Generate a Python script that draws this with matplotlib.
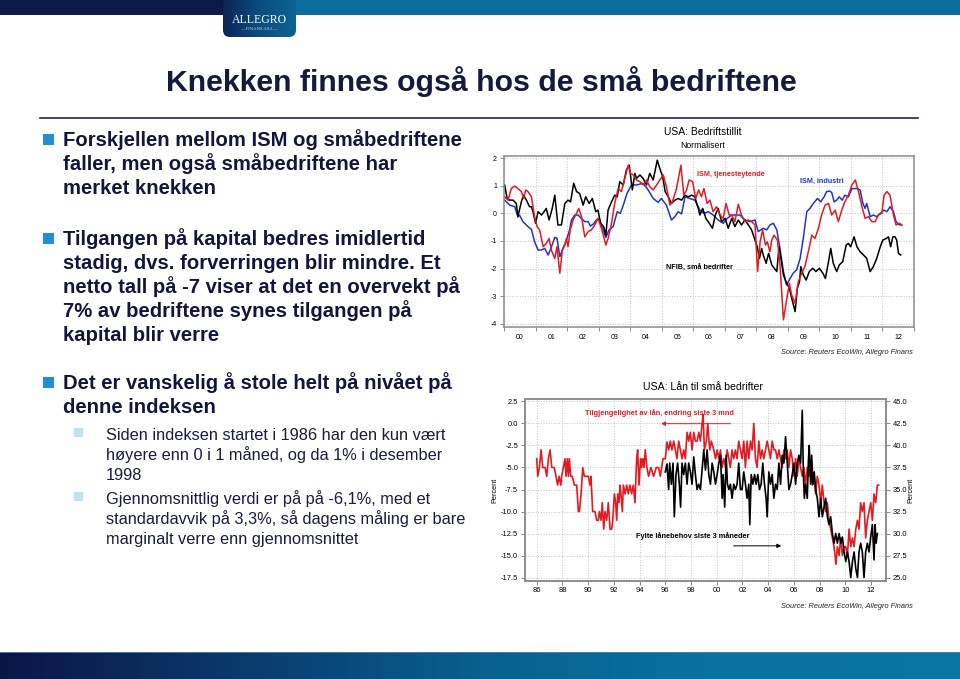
import matplotlib
matplotlib.use("Agg")
import matplotlib.pyplot as plt
import numpy as np
from matplotlib.patches import Rectangle, FancyBboxPatch
from matplotlib.colors import LinearSegmentedColormap

plt.rcParams['font.family'] = ['Liberation Sans', 'DejaVu Sans']
plt.rcParams['axes.unicode_minus'] = False

# ---------------- data: top chart (normalised confidence) ----------------
ism_ind_t = [2000.02, 2000.18, 2000.34, 2000.44, 2000.49, 2000.60, 2000.76, 2000.87, 2000.97, 2001.08,
             2001.18, 2001.29, 2001.40, 2001.50, 2001.61, 2001.68, 2001.77, 2001.87, 2001.98, 2002.08,
             2002.14, 2002.24, 2002.35, 2002.45, 2002.56, 2002.67, 2002.74, 2002.83, 2002.93, 2003.02,
             2003.14, 2003.23, 2003.33, 2003.46, 2003.59, 2003.69, 2003.80, 2003.90, 2004.04, 2004.20,
             2004.41, 2004.57, 2004.73, 2004.89, 2004.99, 2005.15, 2005.31, 2005.42, 2005.52, 2005.63,
             2005.74, 2005.89, 2006.05, 2006.21, 2006.34, 2006.48, 2006.63, 2006.79, 2006.95, 2007.08,
             2007.22, 2007.32, 2007.48, 2007.64, 2007.80, 2007.96, 2008.06, 2008.22, 2008.33, 2008.43,
             2008.54, 2008.65, 2008.75, 2008.86, 2008.96, 2009.07, 2009.17, 2009.28, 2009.39, 2009.49,
             2009.60, 2009.70, 2009.81, 2009.94, 2010.04, 2010.15, 2010.23, 2010.32, 2010.39, 2010.47,
             2010.55, 2010.63, 2010.72, 2010.81, 2010.92, 2011.03, 2011.19, 2011.29, 2011.38, 2011.45,
             2011.50, 2011.61, 2011.71, 2011.82, 2011.93, 2012.05, 2012.14, 2012.24, 2012.35, 2012.43,
             2012.54, 2012.61]
ism_ind_v = [0.48, 0.30, 0.24, -0.12, -0.06, -0.30, -0.48, -0.58, -1.03, -1.33,
             -1.33, -1.27, -1.51, -1.23, -0.87, -0.90, -1.57, -1.27, -0.97, -0.60,
             -0.24, -0.06, -0.06, -0.18, -0.30, -0.30, -0.46, -0.39, -0.24, -0.18,
             -0.60, -0.87, -0.60, -0.48, 0.06, 0.00, 0.36, 0.72, 1.03, 1.03,
             1.09, 0.85, 0.54, 0.40, 0.54, 0.30, -0.24, -0.12, 0.06, -0.02,
             0.60, 0.54, 0.48, 0.12, 0.00, 0.06, -0.06, -0.24, -0.36, -0.18,
             -0.06, -0.06, -0.06, -0.24, -0.30, -0.24, -0.66, -0.54, -0.60, -0.42,
             -0.36, -0.60, -1.27, -2.11, -2.60, -2.36, -2.17, -2.05, -1.63, -0.90,
             0.06, 0.18, 0.36, 0.54, 0.42, 0.60, 0.79, 0.81, 0.76, 0.42,
             0.48, 0.60, 0.48, 0.66, 0.60, 0.90, 0.90, 0.85, 0.36, 0.18,
             0.36, -0.12, -0.06, -0.12, 0.00, 0.12, 0.06, 0.24, 0.06, -0.30,
             -0.42, -0.42]

ism_srv_t = [2000.02, 2000.13, 2000.23, 2000.34, 2000.44, 2000.55, 2000.62, 2000.69, 2000.76, 2000.87,
             2000.97, 2001.05, 2001.13, 2001.24, 2001.34, 2001.43, 2001.50, 2001.61, 2001.68, 2001.77,
             2001.85, 2001.93, 2001.98, 2002.03, 2002.10, 2002.19, 2002.30, 2002.37, 2002.46, 2002.56,
             2002.67, 2002.77, 2002.88, 2002.98, 2003.09, 2003.23, 2003.30, 2003.41, 2003.51, 2003.62,
             2003.72, 2003.83, 2003.94, 2004.01, 2004.10, 2004.20, 2004.31, 2004.41, 2004.52, 2004.62,
             2004.73, 2004.84, 2004.94, 2005.05, 2005.15, 2005.26, 2005.34, 2005.47, 2005.61, 2005.70,
             2005.79, 2005.87, 2005.98, 2006.08, 2006.17, 2006.26, 2006.34, 2006.44, 2006.53, 2006.63,
             2006.74, 2006.85, 2006.95, 2007.04, 2007.14, 2007.22, 2007.32, 2007.43, 2007.53, 2007.64,
             2007.75, 2007.85, 2007.96, 2008.04, 2008.12, 2008.20, 2008.29, 2008.35, 2008.43, 2008.49,
             2008.56, 2008.67, 2008.75, 2008.86, 2008.96, 2009.05, 2009.12, 2009.23, 2009.33, 2009.44,
             2009.54, 2009.65, 2009.76, 2009.86, 2009.97, 2010.07, 2010.18, 2010.29, 2010.39, 2010.50,
             2010.60, 2010.71, 2010.81, 2010.92, 2011.03, 2011.14, 2011.24, 2011.35, 2011.45, 2011.56,
             2011.66, 2011.77, 2011.87, 2011.98, 2012.05, 2012.14, 2012.24, 2012.35, 2012.43, 2012.54,
             2012.61]
ism_srv_v = [0.60, 0.48, 0.90, 0.99, 0.90, 0.79, 0.54, 0.85, 0.79, 0.60,
             -0.12, -0.48, -0.60, -1.21, -1.09, -0.91, -1.33, -1.63, -1.21, -2.17,
             -1.33, -1.15, -0.91, -1.21, -0.60, -0.24, 0.00, 0.18, -0.12, -0.85,
             -0.66, -0.60, -0.42, -0.18, -0.54, -1.15, -0.91, -0.36, 0.36, 0.90,
             0.79, 1.27, 1.75, 1.45, 1.39, 1.21, 1.15, 1.03, 1.21, 0.97,
             0.85, 1.03, 1.21, 1.39, 0.97, 0.30, 0.42, 0.90, 1.75, 0.66,
             0.85, 1.21, 1.15, 0.54, 0.85, 0.60, 0.90, 0.36, 0.48, 0.06,
             0.24, -0.06, -0.18, 0.36, -0.06, -0.06, -0.30, 0.33, -0.06, -0.30,
             -0.24, -0.30, -0.42, -2.11, -1.03, -0.60, -1.15, -1.03, -1.39, -0.97,
             -0.79, -0.97, -1.87, -3.86, -3.14, -2.54, -2.96, -3.26, -2.48, -2.17,
             -1.93, -1.39, -0.79, -0.91, -0.54, -0.06, 0.30, 0.36, -0.06, 0.12,
             -0.30, 0.12, 0.42, 0.66, 1.03, 1.21, 0.79, 0.24, -0.18, -0.12,
             -0.30, -0.30, -0.06, 0.00, 0.66, 0.79, 0.66, -0.06, -0.42, -0.36,
             -0.42]

nfib_t = [2000.02, 2000.10, 2000.18, 2000.29, 2000.39, 2000.44, 2000.55, 2000.62, 2000.71, 2000.81,
          2000.87, 2000.92, 2001.00, 2001.08, 2001.19, 2001.27, 2001.34, 2001.43, 2001.53, 2001.61,
          2001.71, 2001.82, 2001.93, 2002.03, 2002.11, 2002.21, 2002.30, 2002.40, 2002.51, 2002.59,
          2002.70, 2002.80, 2002.91, 2002.98, 2003.06, 2003.16, 2003.23, 2003.30, 2003.41, 2003.51,
          2003.59, 2003.67, 2003.78, 2003.88, 2003.97, 2004.07, 2004.15, 2004.20, 2004.31, 2004.41,
          2004.52, 2004.62, 2004.73, 2004.86, 2004.94, 2005.03, 2005.11, 2005.21, 2005.31, 2005.42,
          2005.52, 2005.63, 2005.74, 2005.84, 2005.95, 2006.05, 2006.16, 2006.21, 2006.30, 2006.40,
          2006.51, 2006.61, 2006.70, 2006.79, 2006.90, 2007.01, 2007.11, 2007.22, 2007.32, 2007.43,
          2007.53, 2007.64, 2007.75, 2007.85, 2007.96, 2008.03, 2008.10, 2008.17, 2008.22, 2008.31,
          2008.39, 2008.49, 2008.57, 2008.65, 2008.72, 2008.78, 2008.86, 2008.94, 2009.05, 2009.15,
          2009.23, 2009.30, 2009.37, 2009.41, 2009.49, 2009.58, 2009.68, 2009.79, 2009.89, 2010.00,
          2010.11, 2010.19, 2010.29, 2010.36, 2010.44, 2010.55, 2010.63, 2010.74, 2010.85, 2010.92,
          2010.99, 2011.10, 2011.19, 2011.29, 2011.40, 2011.50, 2011.61, 2011.71, 2011.82, 2011.93,
          2012.01, 2012.12, 2012.19, 2012.26, 2012.33, 2012.40, 2012.45, 2012.51, 2012.58]
nfib_v = [1.03, 0.54, 0.48, 0.48, 0.36, -0.12, 0.42, 0.66, 0.48, 0.24,
          0.24, 0.06, -0.36, 0.06, -0.06, 0.06, 0.18, -0.24, 0.18, 0.66,
          -0.42, -0.42, 0.36, 0.48, 0.42, 1.09, 0.79, 0.72, 0.30, 0.60,
          0.36, 0.54, 0.06, 0.12, -0.36, -0.48, -0.79, 0.12, 0.42, 0.66,
          0.60, 1.15, 1.03, 1.57, 1.75, 0.85, 1.45, 1.27, 1.39, 1.27,
          1.03, 1.45, 1.21, 1.93, 1.63, 1.33, 0.79, 0.60, 0.36, 0.48,
          0.54, 0.48, 0.66, 0.60, 0.66, 0.60, 0.18, -0.06, 0.18, -0.18,
          -0.36, -0.54, -0.06, 0.18, -0.30, -0.18, -0.54, -0.18, -0.48, -0.24,
          -0.42, -0.24, -0.42, -0.60, -0.97, -1.21, -1.63, -1.27, -1.51, -1.81,
          -1.45, -1.87, -1.99, -2.11, -1.21, -1.63, -2.23, -2.48, -2.72, -3.20,
          -3.56, -2.72, -2.48, -1.93, -2.23, -2.42, -2.11, -1.99, -2.11, -1.99,
          -2.17, -2.36, -1.75, -1.27, -1.81, -2.11, -1.87, -1.75, -1.15, -1.09,
          -1.21, -0.85, -1.21, -1.39, -1.51, -1.63, -2.11, -1.93, -1.63, -1.21,
          -0.97, -0.91, -0.85, -1.21, -0.85, -0.85, -0.97, -1.45, -1.51]

top_years = ['00', '01', '02', '03', '04', '05', '06', '07', '08', '09', '10', '11', '12']

# ---------------- data: bottom chart (loans to small firms) ----------------
loan_t = [1986.00, 1986.08, 1986.21, 1986.34, 1986.47, 1986.65, 1986.78, 1986.91, 1987.04, 1987.17,
          1987.37, 1987.50, 1987.63, 1987.74, 1987.87, 1987.94, 1988.07, 1988.20, 1988.28, 1988.38,
          1988.46, 1988.54, 1988.64, 1988.77, 1988.93, 1989.11, 1989.24, 1989.32, 1989.45, 1989.58,
          1989.70, 1989.89, 1990.02, 1990.15, 1990.22, 1990.35, 1990.53, 1990.66, 1990.79, 1990.87,
          1991.00, 1991.10, 1991.21, 1991.31, 1991.44, 1991.57, 1991.70, 1991.83, 1991.91, 1992.04,
          1992.14, 1992.22, 1992.30, 1992.40, 1992.48, 1992.55, 1992.66, 1992.74, 1992.87, 1993.00,
          1993.12, 1993.25, 1993.38, 1993.51, 1993.64, 1993.77, 1993.85, 1993.95, 1994.08, 1994.16,
          1994.26, 1994.34, 1994.44, 1994.57, 1994.70, 1994.88, 1995.09, 1995.30, 1995.48, 1995.61,
          1995.82, 1996.00, 1996.13, 1996.26, 1996.39, 1996.52, 1996.65, 1996.78, 1996.91, 1997.04,
          1997.17, 1997.30, 1997.43, 1997.56, 1997.69, 1997.82, 1997.95, 1998.08, 1998.21, 1998.34,
          1998.47, 1998.60, 1998.73, 1998.86, 1998.94, 1999.04, 1999.19, 1999.30, 1999.45, 1999.58,
          1999.77, 1999.90, 2000.03, 2000.16, 2000.29, 2000.42, 2000.55, 2000.68, 2000.81, 2000.94,
          2001.06, 2001.19, 2001.32, 2001.45, 2001.58, 2001.71, 2001.84, 2001.97, 2002.10, 2002.23,
          2002.36, 2002.49, 2002.62, 2002.75, 2002.88, 2003.01, 2003.14, 2003.27, 2003.40, 2003.53,
          2003.66, 2003.79, 2003.92, 2004.05, 2004.18, 2004.31, 2004.44, 2004.57, 2004.70, 2004.83,
          2004.96, 2005.09, 2005.22, 2005.35, 2005.48, 2005.61, 2005.74, 2005.87, 2006.00, 2006.13,
          2006.26, 2006.39, 2006.52, 2006.65, 2006.78, 2006.91, 2007.04, 2007.17, 2007.30, 2007.43,
          2007.56, 2007.69, 2007.82, 2007.95, 2008.08, 2008.21, 2008.34, 2008.47, 2008.60, 2008.73,
          2008.86, 2008.99, 2009.12, 2009.27, 2009.38, 2009.51, 2009.64, 2009.77, 2009.90, 2010.03,
          2010.16, 2010.29, 2010.42, 2010.55, 2010.68, 2010.81, 2010.94, 2011.06, 2011.19, 2011.32,
          2011.45, 2011.58, 2011.71, 2011.84, 2011.97, 2012.10, 2012.23, 2012.36, 2012.49, 2012.58]
loan_v = [-4, -6, -5, -3, -5, -5, -6, -4, -3, -5,
          -5, -6, -7, -6, -7, -6, -5, -4, -6, -4,
          -6, -4, -6, -6, -7, -7, -10, -10, -8, -5,
          -6, -6, -6, -7, -6, -10, -10, -11, -11, -10,
          -11, -9, -12, -10, -11, -9, -12, -12, -11, -8,
          -9, -11, -8, -9, -7, -8, -10, -7, -8, -7,
          -8, -7, -8, -7, -9, -4, -3, -7, -4, -5,
          -4, -5, -3, -5, -6, -5, -6, -5, -5, -6,
          -4, -4, -2.1, -3, -2, -3, -2, -3, -4, -2,
          -3, -4, -3, -4, -1, -2, -1, -3, -1, -2,
          -2, -1, -2, 0, 1, -3, -2, 0, -3, -2,
          -3, -4, -3, -4, -3, -5, -4, -5, -3, -4,
          -5, -3, -4, -3, -4, -2, -3, -4, -2, -5,
          -2, -4, -2, -3, 0, -4, -5, -2, -4, -3,
          -4, -3, -2, -3, -4, -2, -3, -3, -4, -3,
          -4, -5, -3, -4, -3, -5, -3, -4, -6, -4,
          -6, -4, -5, -6, -5, -7, -5, -6, -5, -7,
          -6, -8, -6, -7, -9, -7, -9, -10, -9, -11,
          -12, -13, -14, -16, -14, -15, -13, -15, -14, -14,
          -15, -12, -14, -13, -14, -12, -11, -12, -9, -10,
          -9, -13, -11, -10, -9, -11, -8, -9, -7, -7]

need_t = [1996.00, 1996.13, 1996.26, 1996.34, 1996.47, 1996.60, 1996.70, 1996.83, 1996.96, 1997.09,
          1997.19, 1997.30, 1997.43, 1997.56, 1997.69, 1997.82, 1997.95, 1998.08, 1998.21, 1998.34,
          1998.47, 1998.60, 1998.73, 1998.86, 1998.99, 1999.12, 1999.25, 1999.38, 1999.51, 1999.64,
          1999.77, 1999.90, 2000.03, 2000.16, 2000.29, 2000.42, 2000.49, 2000.62, 2000.73, 2000.83,
          2000.94, 2001.06, 2001.19, 2001.32, 2001.45, 2001.58, 2001.71, 2001.84, 2001.97, 2002.10,
          2002.23, 2002.36, 2002.49, 2002.57, 2002.68, 2002.81, 2002.94, 2003.06, 2003.19, 2003.32,
          2003.45, 2003.58, 2003.71, 2003.84, 2003.92, 2004.05, 2004.18, 2004.31, 2004.44, 2004.57,
          2004.70, 2004.83, 2004.96, 2005.09, 2005.22, 2005.35, 2005.48, 2005.61, 2005.74, 2005.87,
          2006.00, 2006.13, 2006.26, 2006.39, 2006.52, 2006.65, 2006.73, 2006.81, 2006.91, 2007.04,
          2007.12, 2007.19, 2007.30, 2007.38, 2007.48, 2007.58, 2007.69, 2007.82, 2007.95, 2008.08,
          2008.21, 2008.34, 2008.47, 2008.60, 2008.73, 2008.86, 2008.99, 2009.12, 2009.25, 2009.38,
          2009.51, 2009.64, 2009.77, 2009.90, 2010.03, 2010.16, 2010.29, 2010.42, 2010.55, 2010.68,
          2010.81, 2010.94, 2011.06, 2011.19, 2011.32, 2011.45, 2011.58, 2011.71, 2011.84, 2011.97,
          2012.10, 2012.23, 2012.31, 2012.39, 2012.49]
need_v = [37.0, 37.9, 35.0, 38.0, 35.6, 38.0, 31.9, 36.7, 38.0, 35.6,
          33.0, 38.0, 36.7, 38.0, 35.6, 38.0, 37.0, 35.6, 38.7, 36.7,
          35.0, 35.6, 35.0, 37.2, 39.5, 37.2, 39.5, 36.7, 35.6, 38.0,
          37.0, 35.6, 36.7, 38.0, 38.9, 34.0, 36.7, 33.0, 38.9, 35.6,
          35.0, 35.6, 34.0, 35.6, 35.0, 35.6, 38.0, 35.0, 35.0, 37.0,
          35.6, 34.0, 35.6, 31.0, 36.7, 35.6, 36.7, 35.6, 36.7, 35.0,
          35.6, 38.0, 35.6, 34.0, 31.9, 37.0, 35.6, 36.7, 34.0, 35.6,
          35.0, 38.0, 35.6, 38.9, 38.0, 41.0, 38.0, 35.0, 35.6, 36.7,
          38.0, 35.6, 38.0, 38.9, 38.0, 44.0, 37.0, 34.0, 35.6, 34.0,
          38.0, 40.0, 35.6, 38.9, 35.6, 37.0, 35.0, 34.0, 31.9, 34.0,
          31.9, 33.0, 34.0, 31.9, 31.0, 31.9, 30.0, 28.9, 30.0, 28.9,
          30.0, 28.9, 29.6, 27.9, 26.8, 27.9, 26.8, 25.0, 26.8, 27.9,
          26.0, 25.0, 27.9, 28.9, 27.9, 25.0, 27.9, 28.9, 27.9, 29.6,
          31.0, 27.0, 31.0, 28.9, 30.0]

bottom_years = ['86', '88', '90', '92', '94', '96', '98', '00', '02', '04', '06', '08', '10', '12']

# ---------------- slide text ----------------
title = 'Knekken finnes også hos de små bedriftene'
main_bullets = [
    ['Forskjellen mellom ISM og småbedriftene', 'faller, men også småbedriftene har', 'merket knekken'],
    ['Tilgangen på kapital bedres imidlertid', 'stadig, dvs. forverringen blir mindre. Et',
     'netto tall på -7 viser at det en overvekt på', '7% av bedriftene synes tilgangen på',
     'kapital blir verre'],
    ['Det er vanskelig å stole helt på nivået på', 'denne indeksen'],
]
sub_bullets = [
    ['Siden indeksen startet i 1986 har den kun vært', 'høyere enn 0 i 1 måned, og da 1% i desember', '1998'],
    ['Gjennomsnittlig verdi er på på -6,1%, med et', 'standardavvik på 3,3%, så dagens måling er bare',
     'marginalt verre enn gjennomsnittet'],
]
source = 'Source: Reuters EcoWin, Allegro Finans'

RED = '#e01b22'
BLUE = '#2232d2'
NAVY = '#13163c'
GRID = '#c4c4c4'
SPINE = '#8a8a8a'

W, H = 960, 679
fig = plt.figure(figsize=(W / 100, H / 100), dpi=100)
fig.patch.set_facecolor('white')

# background layer in pixel coordinates
bg = fig.add_axes([0, 0, 1, 1])
bg.axis('off')

band_cm = LinearSegmentedColormap.from_list('band', ['#0b1545', '#0a3a6c', '#07608f', '#0872a0', '#0876a3'])
grad = np.linspace(0, 1, 256)[None, :]

# header
bg.add_patch(Rectangle((0, 0), 223, 15, color='#0c1949', lw=0))
bg.add_patch(Rectangle((296, 0), W - 296, 15, color='#0a6d9c', lw=0))
tab = FancyBboxPatch((223, -12), 73, 49, boxstyle='round,pad=0,rounding_size=7', fc='none', ec='none')
bg.add_patch(tab)
im = bg.imshow(grad, cmap=LinearSegmentedColormap.from_list('tab', ['#0c2456', '#0a4d80', '#0a6494']),
               extent=(223, 296, 37, -12), aspect='auto')
im.set_clip_path(tab)
bg.text(259.5, 23, 'ALLEGRO', color='white', family='Liberation Serif', fontsize=8.5,
        ha='center', va='baseline')
bg.text(259.5, 30.5, '— FINANS ASA —', color='#c8d6ea', family='Liberation Serif', fontsize=3.3,
        ha='center', va='baseline')

# footer
bg.imshow(grad, cmap=band_cm, extent=(0, W, H, 652), aspect='auto')
bg.plot([0, W], [652, 652], color='#4a8db0', lw=0.6)

# title + rule
bg.text(481, 91, title, fontsize=21.8, fontweight='bold', color='#141a3d', ha='center', va='baseline')
bg.plot([40, 918], [118, 118], color='#1d2452', lw=1.2)

# bullets
for group, y0 in zip(main_bullets, [146, 245, 389]):
    bg.add_patch(Rectangle((43, y0 - 12), 11, 11, color='#1f8fd8', lw=0))
    for i, line in enumerate(group):
        bg.text(63, y0 + 24 * i, line, fontsize=14.6, fontweight='bold', color=NAVY, va='baseline')
for group, y0 in zip(sub_bullets, [440, 504]):
    bg.add_patch(Rectangle((74, y0 - 12), 9, 9, color='#bfe0ee', lw=0))
    for i, line in enumerate(group):
        bg.text(106, y0 + 20 * i, line, fontsize=11.8, color='#181c3e', va='baseline')

# chart headings / sources
bg.text(703, 132, 'USA: Bedriftstillit', fontsize=7.5, ha='center', va='center')
bg.text(703, 146, 'Normalisert', fontsize=6.2, ha='center', va='center')
bg.text(913, 352, source, fontsize=5.3, style='italic', ha='right', va='center', color='#222222')
bg.text(703, 387, 'USA: Lån til små bedrifter', fontsize=7.6, ha='center', va='center')
bg.text(913, 607, source, fontsize=5.3, style='italic', ha='right', va='center', color='#222222')
bg.text(495, 490, 'Percent', fontsize=5.3, rotation=90, ha='center', va='center')
bg.text(911, 490, 'Percent', fontsize=5.3, rotation=90, ha='center', va='center')

bg.set_xlim(0, W)
bg.set_ylim(H, 0)


def style_axes(ax):
    for s in ax.spines.values():
        s.set_color(SPINE)
        s.set_linewidth(1.1)
    ax.tick_params(direction='out', length=3, width=0.7, color=SPINE, labelsize=5, pad=2)


# ---------------- top chart ----------------
ax1 = fig.add_axes([504 / W, 1 - 327 / H, 410 / W, 171 / H])
ax1.plot(ism_ind_t, ism_ind_v, color=BLUE, lw=1.1)
ax1.plot(nfib_t, nfib_v, color='black', lw=1.1)
ax1.plot(ism_srv_t, ism_srv_v, color=RED, lw=1.1)
ax1.set_xlim(2000, 2013)
ax1.set_ylim(-4.12, 2.08)
ax1.set_yticks(range(-4, 3))
ax1.set_xticks(range(2000, 2014))
ax1.set_xticklabels([])
ax1.set_xticks(np.arange(2000.5, 2013, 1.0), minor=True)
ax1.set_xticklabels(top_years, minor=True)
style_axes(ax1)
ax1.tick_params(axis='x', which='minor', length=0, pad=5, labelsize=5)
ax1.grid(True, which='major', color=GRID, linestyle=':', linewidth=0.7)
ax1.text(2006.12, 1.42, 'ISM, tjenesteytende', color=RED, fontsize=5.2, fontweight='bold', va='center')
ax1.text(2009.38, 1.17, 'ISM, industri', color=BLUE, fontsize=5.2, fontweight='bold', va='center')
ax1.text(2005.13, -1.98, 'NFIB, små bedrifter', color='black', fontsize=5.2, fontweight='bold', va='center')

# ---------------- bottom chart ----------------
ax2 = fig.add_axes([525 / W, 1 - 580.5 / H, 361 / W, 182 / H])
ax2.plot(loan_t, loan_v, color=RED, lw=1.2)
ax2.set_xlim(1985.09, 2013.16)
ax2.set_ylim(-17.84, 2.84)
ax2.set_yticks(np.arange(-17.5, 2.6, 2.5))
ax2.set_yticklabels(['%.1f' % v for v in np.arange(-17.5, 2.6, 2.5)])
ax2.set_xticks(np.arange(1986, 2013, 2))
ax2.set_xticklabels(bottom_years)
style_axes(ax2)
ax2.tick_params(labelsize=5.4)
ax2.grid(True, color=GRID, linestyle=':', linewidth=0.7)

ax2r = ax2.twinx()
ax2r.plot(need_t, need_v, color='black', lw=1.2)
ax2r.set_ylim(24.66, 45.34)
ax2r.set_yticks(np.arange(25, 45.1, 2.5))
ax2r.set_yticklabels(['%.1f' % v for v in np.arange(25, 45.1, 2.5)])
style_axes(ax2r)
ax2r.tick_params(labelsize=5.4)

ax2r.text(1989.76, 1.18 + 42.5, 'Tilgjengelighet av lån, endring siste 3 mnd', color=RED,
          fontsize=5.3, fontweight='bold', va='center')
ax2r.annotate('', xy=(1995.46, -0.02 + 42.5), xytext=(2001.29, -0.02 + 42.5),
              arrowprops=dict(arrowstyle='-|>', color=RED, lw=0.7, mutation_scale=6))
ax2r.text(1993.70, -12.75 + 42.5, 'Fylte lånebehov siste 3 måneder', color='black',
          fontsize=5.3, fontweight='bold', va='center')
ax2r.annotate('', xy=(2005.23, -13.9 + 42.5), xytext=(2001.09, -13.9 + 42.5),
              arrowprops=dict(arrowstyle='-|>', color='black', lw=0.7, mutation_scale=6))

fig.savefig('out.png', dpi=100)
